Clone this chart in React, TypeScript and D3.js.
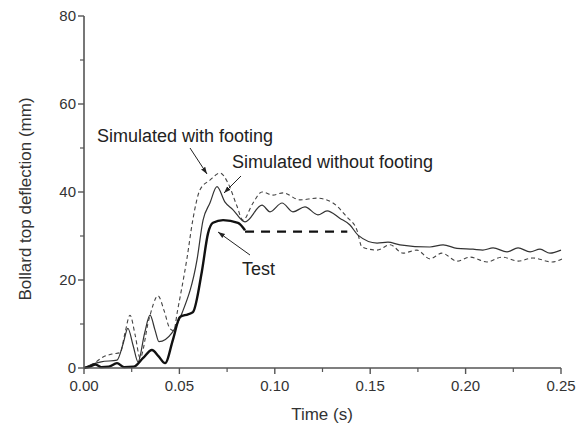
import React from "react";
import * as d3 from "d3";

const testT = [0, 0.003, 0.006, 0.009, 0.013, 0.0173, 0.021, 0.026, 0.031, 0.0356, 0.039, 0.0425, 0.0466, 0.0503, 0.0545, 0.0571, 0.0618, 0.065, 0.0676, 0.0729, 0.0807, 0.0844];
const testV = [0, 0.3, 0.8, 0.2, 0.3, 1.1, 0.2, 0.3, 2.3, 4.1, 2.7, 1.1, 6.4, 11.6, 12.2, 12.7, 22, 30.6, 33, 33.6, 33, 31.3];
const testGapT = [0.0844, 0.138];
const testGapV = [31, 31];

const woT = [0, 0.004, 0.009, 0.0173, 0.0205, 0.023, 0.0258, 0.0283, 0.0318, 0.0346, 0.0373, 0.0393, 0.0461, 0.0514, 0.0592, 0.0624, 0.066, 0.0697, 0.0739, 0.078, 0.0844, 0.0933, 0.0975, 0.1038, 0.1095, 0.1158, 0.1226, 0.1274, 0.1342, 0.1394, 0.1436, 0.1536, 0.1593, 0.1656, 0.1813, 0.1882, 0.1955, 0.2039, 0.209, 0.2144, 0.2217, 0.2275, 0.2338, 0.239, 0.2442, 0.25];
const woV = [0, 0.8, 1.4, 1.8, 5.5, 9, 5, 1.4, 8, 12, 8.5, 6, 8, 12.5, 24.5, 33.6, 37.5, 41.2, 37.7, 36, 33.2, 37, 35.5, 37.5, 35.5, 36.6, 34.8, 35.7, 34, 32.5, 30.2, 28.4, 28.6, 28, 27.5, 28, 27.2, 27, 26.8, 27.3, 26.4, 27.3, 26.4, 27.0, 26.1, 26.8];

const wT = [0, 0.005, 0.01, 0.015, 0.019, 0.0215, 0.0241, 0.0268, 0.0294, 0.034, 0.0388, 0.042, 0.045, 0.047, 0.049, 0.054, 0.057, 0.0608, 0.066, 0.0713, 0.0755, 0.08, 0.0833, 0.0886, 0.0933, 0.099, 0.1043, 0.1132, 0.1221, 0.1305, 0.1378, 0.143, 0.1457, 0.1536, 0.1604, 0.1672, 0.1745, 0.1813, 0.1876, 0.1955, 0.2023, 0.2112, 0.2191, 0.2275, 0.2353, 0.2453, 0.2505];
const wV = [0, 1, 2.5, 3.2, 3.5, 8, 12, 7.5, 2.3, 11, 16.4, 13, 9, 8.5, 13, 25, 33.6, 40.5, 42.7, 44.3, 42, 37, 33.6, 37.5, 40, 39.3, 39.8, 38.2, 38.6, 37.5, 34.3, 31.4, 27.5, 26.8, 28, 26.1, 26.8, 24.8, 26.1, 24.3, 25.2, 24.1, 25.2, 24.3, 25, 24.1, 24.8];

const xTicks = [0, 0.05, 0.1, 0.15, 0.2, 0.25];
const xMinor = [0.025, 0.075, 0.125, 0.175, 0.225];
const yTicks = [0, 20, 40, 60, 80];
const yMinor = [10, 30, 50, 70];

const xLabel = "Time (s)";
const yLabel = "Bollard top deflection (mm)";
const labelWith = "Simulated with footing";
const labelWithout = "Simulated without footing";
const labelTest = "Test";

const FONT = "'Liberation Sans', Arial, sans-serif";

export default function App() {
  const x = d3.scaleLinear().domain([0, 0.25]).range([84, 561]);
  const y = d3.scaleLinear().domain([0, 80]).range([368, 16]);
  const line = d3
    .line<[number, number]>()
    .x((d) => x(d[0]))
    .y((d) => y(d[1]))
    .curve(d3.curveMonotoneX);
  const straight = d3
    .line<[number, number]>()
    .x((d) => x(d[0]))
    .y((d) => y(d[1]));
  const zip = (a: number[], b: number[]) => a.map((v, i) => [v, b[i]] as [number, number]);

  const axisColor = "#555";
  const textColor = "#333";

  return (
    <svg width={586} height={430} style={{ position: "absolute", left: 0, top: 0, background: "#fff" }}>
      <defs>
        <marker id="ah" viewBox="0 0 10 10" refX="10" refY="5" markerWidth="7" markerHeight="7" orient="auto">
          <path d="M0,1.5 L10,5 L0,8.5 Z" fill="#222" />
        </marker>
      </defs>
      <rect x={0} y={0} width={586} height={430} fill="#fff" />
      {/* curves */}
      <path d={line(zip(wT, wV)) || ""} fill="none" stroke="#444" strokeWidth={1.1} strokeDasharray="4,3" />
      <path d={line(zip(woT, woV)) || ""} fill="none" stroke="#333" strokeWidth={1.2} />
      <path d={line(zip(testT, testV)) || ""} fill="none" stroke="#111" strokeWidth={2.4} />
      <path d={straight(zip(testGapT, testGapV)) || ""} fill="none" stroke="#111" strokeWidth={2.2} strokeDasharray="9,7" />

      {/* axes */}
      <line x1={x(0)} x2={x(0.25)} y1={y(0)} y2={y(0)} stroke={axisColor} strokeWidth={1.6} />
      <line x1={x(0)} x2={x(0)} y1={y(0)} y2={y(80)} stroke={axisColor} strokeWidth={1.6} />
      {xTicks.map((t) => (
        <g key={"xt" + t}>
          <line x1={x(t)} x2={x(t)} y1={y(0)} y2={y(0) + 6} stroke={axisColor} strokeWidth={1.4} />
          <text x={x(t)} y={y(0) + 23} textAnchor="middle" fontFamily={FONT} fontSize={15} fill={textColor}>
            {t.toFixed(2)}
          </text>
        </g>
      ))}
      {xMinor.map((t) => (
        <line key={"xm" + t} x1={x(t)} x2={x(t)} y1={y(0)} y2={y(0) + 4} stroke={axisColor} strokeWidth={1.2} />
      ))}
      {yTicks.map((v) => (
        <g key={"yt" + v}>
          <line x1={x(0) - 6} x2={x(0)} y1={y(v)} y2={y(v)} stroke={axisColor} strokeWidth={1.4} />
          <text x={x(0) - 8} y={y(v) + 5} textAnchor="end" fontFamily={FONT} fontSize={15} fill={textColor}>
            {v}
          </text>
        </g>
      ))}
      {yMinor.map((v) => (
        <line key={"ym" + v} x1={x(0) - 4} x2={x(0)} y1={y(v)} y2={y(v)} stroke={axisColor} strokeWidth={1.2} />
      ))}
      <text x={322} y={420} textAnchor="middle" fontFamily={FONT} fontSize={17} fill={textColor}>
        {xLabel}
      </text>
      <text transform="translate(31,199) rotate(-90)" textAnchor="middle" fontFamily={FONT} fontSize={17} fill={textColor}>
        {yLabel}
      </text>

      {/* annotations */}
      <text x={97} y={142} fontFamily={FONT} fontSize={18} fill="#222">{labelWith}</text>
      <line x1={190} y1={148} x2={207} y2={174} stroke="#222" strokeWidth={1} markerEnd="url(#ah)" />
      <text x={232} y={168} fontFamily={FONT} fontSize={18} fill="#222">{labelWithout}</text>
      <line x1={241} y1={176} x2={224} y2={193} stroke="#222" strokeWidth={1} markerEnd="url(#ah)" />
      <text x={242} y={275} fontFamily={FONT} fontSize={18} fill="#222">{labelTest}</text>
      <line x1={250} y1={255} x2={218} y2={232} stroke="#222" strokeWidth={1} markerEnd="url(#ah)" />
    </svg>
  );
}
